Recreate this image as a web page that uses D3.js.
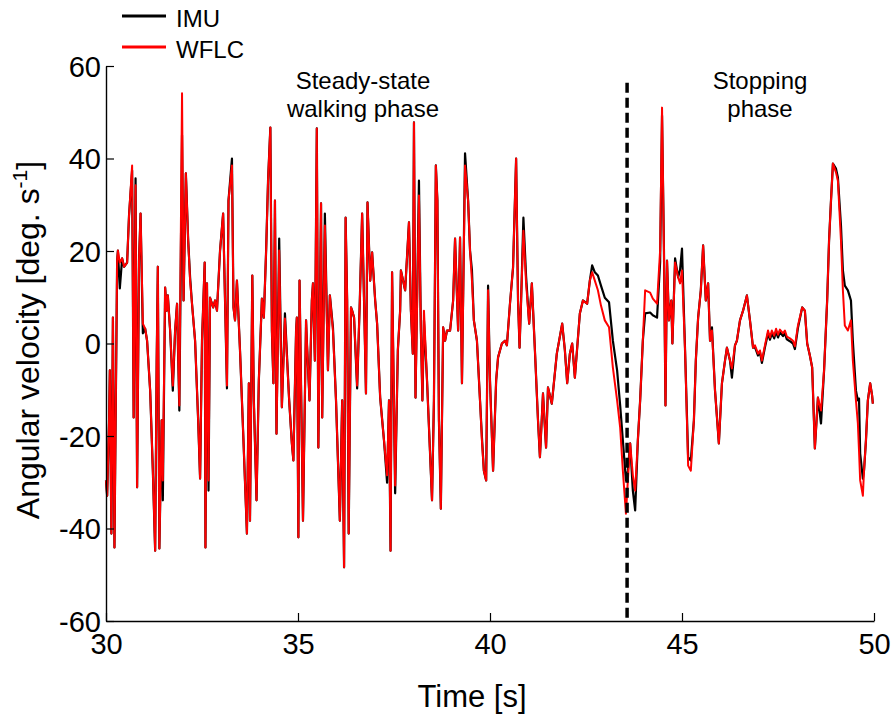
<!DOCTYPE html>
<html>
<head>
<meta charset="utf-8">
<script src="https://cdn.jsdelivr.net/npm/d3@7/dist/d3.min.js"></script>
<style>
  html, body { margin: 0; padding: 0; background: #fff; }
  svg { display: block; }
  text { font-family: "Liberation Sans", Arial, Helvetica, sans-serif; fill: #000; }
</style>
</head>
<body>
<svg id="chart" width="895" height="720"></svg>
<script>
// Sample times [s]
const timeS = [
  30.00, 30.03, 30.08, 30.10, 30.14, 30.18, 30.22, 30.29, 30.31, 30.36,
  30.42, 30.47, 30.55, 30.60, 30.68, 30.72, 30.77, 30.81, 30.86, 30.90,
  30.96, 31.02, 31.07, 31.15, 31.22, 31.28, 31.32, 31.35, 31.39, 31.45,
  31.48, 31.54, 31.58, 31.61, 31.67, 31.74, 31.80, 31.85, 31.91, 31.98,
  32.02, 32.08, 32.14, 32.19, 32.24, 32.32, 32.40, 32.45, 32.50, 32.57,
  32.59, 32.63, 32.67, 32.71, 32.79, 32.84, 32.89, 32.97, 33.05, 33.10,
  33.15, 33.19, 33.28, 33.32, 33.36, 33.41, 33.49, 33.57, 33.67, 33.72,
  33.75, 33.81, 33.85, 33.92, 33.98, 34.06, 34.11, 34.17, 34.22, 34.28,
  34.32, 34.36, 34.40, 34.44, 34.51, 34.58, 34.66, 34.77, 34.84, 34.88,
  34.95, 34.97, 35.01, 35.04, 35.13, 35.21, 35.23, 35.30, 35.36, 35.39,
  35.44, 35.49, 35.53, 35.60, 35.63, 35.70, 35.78, 35.83, 35.91, 35.99,
  36.09, 36.15, 36.20, 36.24, 36.28, 36.32, 36.38, 36.41, 36.46, 36.54,
  36.61, 36.67, 36.72, 36.77, 36.81, 36.88, 36.93, 37.01, 37.06, 37.14,
  37.24, 37.32, 37.37, 37.41, 37.45, 37.53, 37.60, 37.66, 37.68, 37.79,
  37.89, 37.94, 37.99, 38.02, 38.06, 38.15, 38.20, 38.24, 38.28, 38.36,
  38.49, 38.54, 38.59, 38.63, 38.67, 38.72, 38.78, 38.83, 38.88, 38.96,
  39.04, 39.09, 39.17, 39.22, 39.27, 39.35, 39.43, 39.48, 39.53, 39.58,
  39.66, 39.74, 39.79, 39.84, 39.90, 39.95, 40.00, 40.08, 40.16, 40.21,
  40.31, 40.39, 40.44, 40.52, 40.60, 40.68, 40.73, 40.77, 40.81, 40.87,
  40.94, 41.02, 41.09, 41.17, 41.25, 41.30, 41.38, 41.46, 41.51, 41.61,
  41.74, 41.88, 41.95, 42.01, 42.08, 42.14, 42.21, 42.34, 42.42, 42.53,
  42.60, 42.66, 42.73, 42.81, 42.89, 42.99, 43.10, 43.20, 43.31, 43.39,
  43.46, 43.54, 43.59, 43.65, 43.72, 43.78, 43.85, 43.91, 43.98, 44.04,
  44.17, 44.24, 44.35, 44.43, 44.48, 44.53, 44.57, 44.61, 44.66, 44.72,
  44.75, 44.82, 44.90, 44.95, 45.00, 45.08, 45.16, 45.23, 45.31, 45.36,
  45.42, 45.49, 45.55, 45.62, 45.68, 45.73, 45.78, 45.86, 45.96, 46.04,
  46.12, 46.17, 46.25, 46.30, 46.38, 46.43, 46.51, 46.59, 46.69, 46.77,
  46.85, 46.90, 46.98, 47.03, 47.08, 47.16, 47.24, 47.29, 47.34, 47.40,
  47.45, 47.50, 47.55, 47.63, 47.68, 47.73, 47.81, 47.89, 47.94, 48.02,
  48.13, 48.20, 48.26, 48.33, 48.39, 48.46, 48.54, 48.62, 48.70, 48.78,
  48.83, 48.88, 48.93, 49.01, 49.06, 49.14, 49.19, 49.24, 49.32, 49.40,
  49.45, 49.53, 49.58, 49.61, 49.64, 49.71, 49.74, 49.79, 49.84, 49.90,
  49.95, 49.97
];

// WFLC estimate of angular velocity [deg/s]
const wflc = [
  -29.6, -32.9, -16.6, -5.8, -41.1, 5.6, -44.1, 17.9, 20.1, 17.5,
  18.4, 16.6, 17.5, 27.7, 38.5, -16.0, 34.2, -31.1, 17.9, 28.1,
  4.3, 3.2, 0.6, -10.2, -27.5, -44.8, -3.7, 16.6, -44.3, -16.6,
  -29.6, 12.1, 7.1, 10.4, 2.8, -9.1, 2.8, 8.6, -13.4, 54.1,
  9.3, 36.8, 22.3, 13.6, 8.6, 0.6, -16.6, -29.2, 0.6, 17.5,
  -44.1, 13.0, -29.6, 9.9, 7.8, 9.3, 7.1, 20.1, 28.1, 9.3,
  -9.1, 30.9, 38.5, 7.8, 5.0, 13.6, -1.5, -18.8, -41.1, -8.6,
  -38.3, 14.7, -12.3, -33.9, -8.0, 9.7, 5.6, 20.1, 35.2, 46.7,
  2.8, -8.6, 30.9, -19.5, 20.1, -13.8, 5.4, -12.3, -21.6, -25.3,
  2.8, 5.6, -41.9, 13.6, -38.3, 5.0, 0.6, -12.3, 9.3, 13.0,
  -3.7, 46.5, -22.5, 30.3, -16.0, 25.5, -5.8, 10.4, 2.8, -12.3,
  -38.3, -12.3, -48.4, 27.2, 9.3, -41.1, 7.8, 7.1, 5.6, -9.1,
  9.3, 28.1, 9.3, -10.8, 30.5, 13.6, 19.7, 9.3, 4.3, -11.7,
  -21.0, -28.5, -12.3, -44.8, 15.4, -30.7, -1.5, 7.1, 15.8, 11.5,
  26.2, 7.1, -2.2, 47.8, -11.7, 32.0, 2.8, -12.3, 7.1, -8.0,
  -33.9, -12.3, 38.5, 30.9, -16.6, -35.7, 3.5, 0.6, 2.8, 2.8,
  9.3, 22.7, 2.8, 22.9, -8.6, 38.5, 30.9, 20.1, 13.6, 5.0,
  0.6, -12.3, -21.0, -27.5, -29.6, 11.5, -8.0, -27.5, -8.0, -3.0,
  0.0, 0.6, -0.4, 8.6, 16.4, 40.0, 9.3, -0.9, 9.3, 24.4,
  13.0, 4.3, 13.0, -1.5, -16.6, -24.6, -10.8, -22.5, -9.5, -13.0,
  -2.2, 4.3, -1.5, -8.6, -2.2, 0.0, -7.4, 6.5, 9.3, 8.6,
  13.6, 15.4, 13.6, 11.5, 8.2, 5.0, 3.5, -5.2, -12.3, -18.2,
  -27.5, -36.8, -29.6, -21.6, -28.5, -31.8, -21.0, -12.3, 0.6, 11.5,
  11.0, 9.7, 8.6, 20.1, 51.0, 20.1, -13.4, 17.9, 5.0, 9.3,
  0.0, 17.5, 14.3, 13.0, 15.8, -1.5, -26.4, -27.5, -16.6, -3.7,
  5.6, 11.5, 21.2, 9.3, 13.0, 0.6, 2.8, -10.2, -21.6, -8.6,
  -3.7, -0.9, -3.7, -5.4, -0.4, 0.6, 5.0, 7.1, 10.4, 5.0,
  -0.9, -0.4, -2.2, -1.5, -3.7, -0.4, 2.8, 1.3, 2.8, 1.7,
  3.2, 1.9, 3.0, 2.2, 2.8, 1.5, 1.1, 0.6, -0.6, 3.9,
  7.8, 7.1, 0.0, -2.6, -5.2, -22.7, -11.7, -14.5, -5.8, 9.3,
  22.3, 30.9, 38.9, 37.0, 35.2, 22.3, 11.5, 3.9, 2.8, 5.0,
  -3.7, -12.3, -17.3, -23.2, -29.6, -32.9, -27.5, -21.0, -12.3, -8.6,
  -11.2, -13.0
];

// IMU (gyroscope) angular velocity [deg/s]
const imu = [
  -29.6, -32.9, -16.6, -5.8, -41.1, 5.6, -44.1, 17.9, 20.1, 11.9,
  18.4, 16.6, 17.5, 27.7, 37.4, -16.0, 35.7, -31.1, 17.9, 28.1,
  2.2, 3.2, 0.6, -10.2, -27.5, -44.8, -3.7, 16.6, -44.3, -16.6,
  -33.9, 12.1, 7.1, 10.4, 2.8, -10.2, 2.8, 8.6, -14.5, 45.0,
  9.3, 36.8, 22.3, 14.3, 8.6, 0.6, -16.6, -29.2, 0.6, 17.5,
  -44.1, 13.0, -31.8, 9.9, 7.8, 9.3, 7.1, 20.1, 28.1, 9.3,
  -9.7, 30.9, 40.0, 7.8, 5.0, 13.6, -1.5, -18.8, -41.1, -8.6,
  -38.3, 14.7, -12.3, -33.9, -8.0, 9.7, 5.6, 20.1, 35.2, 46.7,
  2.8, -8.6, 30.9, -19.5, 22.7, -13.8, 6.5, -12.3, -21.6, -25.3,
  2.8, 5.6, -41.9, 13.6, -38.3, 5.0, 0.6, -12.3, 9.3, 13.0,
  -3.7, 46.5, -22.5, 30.3, -16.0, 28.1, -5.8, 10.4, 3.5, -12.3,
  -38.3, -12.3, -48.4, 27.2, 9.3, -41.1, 7.8, 7.1, 5.6, -9.7,
  9.3, 28.1, 9.3, -10.8, 30.5, 13.6, 19.7, 9.3, 4.3, -11.7,
  -21.0, -30.1, -12.3, -44.8, 15.4, -32.4, -1.5, 7.1, 15.8, 11.5,
  26.2, 7.1, -2.2, 47.8, -11.7, 35.2, 2.8, -12.3, 5.0, -8.0,
  -33.9, -12.3, 38.5, 30.9, -16.6, -35.7, 3.5, 0.6, 2.8, 2.8,
  9.3, 22.7, 2.8, 22.9, -8.6, 41.1, 30.9, 20.1, 15.8, 5.0,
  0.6, -12.3, -20.3, -27.5, -29.6, 12.5, -8.0, -27.5, -8.0, -3.0,
  0.0, 0.6, -0.4, 8.6, 16.4, 40.0, 9.3, -0.9, 9.3, 27.2,
  14.5, 4.3, 13.0, -1.5, -16.6, -24.6, -10.8, -22.5, -9.5, -13.0,
  -2.2, 4.3, -1.5, -8.6, -2.2, 0.0, -7.4, 6.5, 9.3, 8.6,
  13.6, 16.9, 15.4, 14.7, 12.5, 9.9, 8.9, 0.6, -5.8, -13.4,
  -21.0, -29.6, -27.5, -21.6, -31.8, -36.1, -21.0, -12.3, 0.6, 6.5,
  6.7, 6.1, 5.6, 17.5, 49.3, 20.1, -13.4, 17.9, 5.0, 9.3,
  0.0, 18.4, 14.3, 16.0, 20.5, -1.5, -24.6, -25.3, -16.6, -3.7,
  5.6, 11.5, 21.2, 9.3, 13.0, 0.6, 3.5, -10.2, -21.6, -8.6,
  -3.7, -0.9, -3.7, -7.4, -0.4, 0.6, 5.0, 7.1, 10.4, 5.0,
  -0.9, -0.8, -2.6, -1.9, -4.2, -0.8, 2.2, 0.8, 2.2, 1.1,
  2.6, 1.3, 2.4, 1.6, 2.2, 0.9, 0.5, 0.0, -1.2, 3.4,
  7.8, 7.1, 0.0, -2.6, -5.2, -22.7, -11.7, -17.3, -5.8, 9.3,
  22.3, 30.9, 38.9, 37.8, 35.9, 25.5, 15.8, 12.5, 11.5, 9.3,
  0.4, -10.2, -12.3, -11.9, -23.8, -29.2, -27.5, -21.0, -12.3, -8.6,
  -11.2, -13.0
];

const xTicks = [30, 35, 40, 45, 50];
const yTicks = [-60, -40, -20, 0, 20, 40, 60];
const phaseBoundary = 43.57;   // start of the stopping phase [s]
const seriesNames = ["IMU", "WFLC"];
const seriesColors = ["#000000", "#ff0000"];

const svg = d3.select("#chart");

const x = d3.scaleLinear().domain([30, 50]).range([106, 874]);
const y = d3.scaleLinear().domain([-60, 60]).range([621, 66]);

// Series lines
const line = d3.line()
  .x((d, i) => x(timeS[i]))
  .y(d => y(d));

svg.append("path")
  .datum(imu)
  .attr("d", line)
  .attr("fill", "none")
  .attr("stroke", seriesColors[0])
  .attr("stroke-width", 2.2)
  .attr("stroke-linejoin", "round");

svg.append("path")
  .datum(wflc)
  .attr("d", line)
  .attr("fill", "none")
  .attr("stroke", seriesColors[1])
  .attr("stroke-width", 2)
  .attr("stroke-linejoin", "round");

// Phase separator
svg.append("line")
  .attr("x1", x(phaseBoundary)).attr("x2", x(phaseBoundary))
  .attr("y1", y(56.4)).attr("y2", y(-60))
  .attr("stroke", "#000")
  .attr("stroke-width", 3.5)
  .attr("stroke-dasharray", "10,5");

// Axes (ticks pointing inward), plain hyphen for negatives
const plain = d => String(d);
const xAxis = d3.axisBottom(x).tickValues(xTicks).tickFormat(plain)
  .tickSizeInner(-8).tickSizeOuter(0).tickPadding(12);
const yAxis = d3.axisLeft(y).tickValues(yTicks).tickFormat(plain)
  .tickSizeInner(-8).tickSizeOuter(0).tickPadding(4);

const gx = svg.append("g").attr("transform", `translate(0,${y(-60)})`).call(xAxis);
const gy = svg.append("g").attr("transform", `translate(${x(30)},0)`).call(yAxis);

[gx, gy].forEach(g => {
  g.select(".domain").attr("stroke", "#000").attr("stroke-width", 1.4);
  g.selectAll(".tick line").attr("stroke", "#000").attr("stroke-width", 1.2);
  g.selectAll(".tick text")
    .attr("fill", "#000")
    .style("font-family", '"Liberation Sans", Arial, sans-serif')
    .style("font-size", "29px");
});
gx.selectAll(".tick text").attr("dy", "0.71em");
gy.selectAll(".tick text").attr("x", -5).attr("dy", "0.35em");

// Axis titles
svg.append("text")
  .attr("x", 472).attr("y", 707)
  .attr("text-anchor", "middle")
  .style("font-size", "31px")
  .text("Time [s]");

const yTitle = svg.append("text")
  .attr("transform", "translate(39,340) rotate(-90)")
  .attr("text-anchor", "middle")
  .style("font-size", "32px");
yTitle.append("tspan").text("Angular velocity [deg. s");
yTitle.append("tspan").attr("dy", -12).style("font-size", "21px").text("-1");
yTitle.append("tspan").attr("dy", 12).text("]");

// Phase annotations
const phaseLabels = [
  { cx: 363, lines: ["Steady-state", "walking phase"] },
  { cx: 760, lines: ["Stopping", "phase"] }
];
phaseLabels.forEach(p => {
  p.lines.forEach((s, i) => {
    svg.append("text")
      .attr("x", p.cx).attr("y", 89 + i * 28)
      .attr("text-anchor", "middle")
      .style("font-size", "24px")
      .text(s);
  });
});

// Legend
seriesNames.forEach((name, i) => {
  const ly = 16 + i * 31;
  svg.append("line")
    .attr("x1", 122).attr("x2", 166)
    .attr("y1", ly).attr("y2", ly)
    .attr("stroke", seriesColors[i])
    .attr("stroke-width", 3);
  svg.append("text")
    .attr("x", 176).attr("y", ly + 11)
    .style("font-size", "24px")
    .text(name);
});
</script>
</body>
</html>
